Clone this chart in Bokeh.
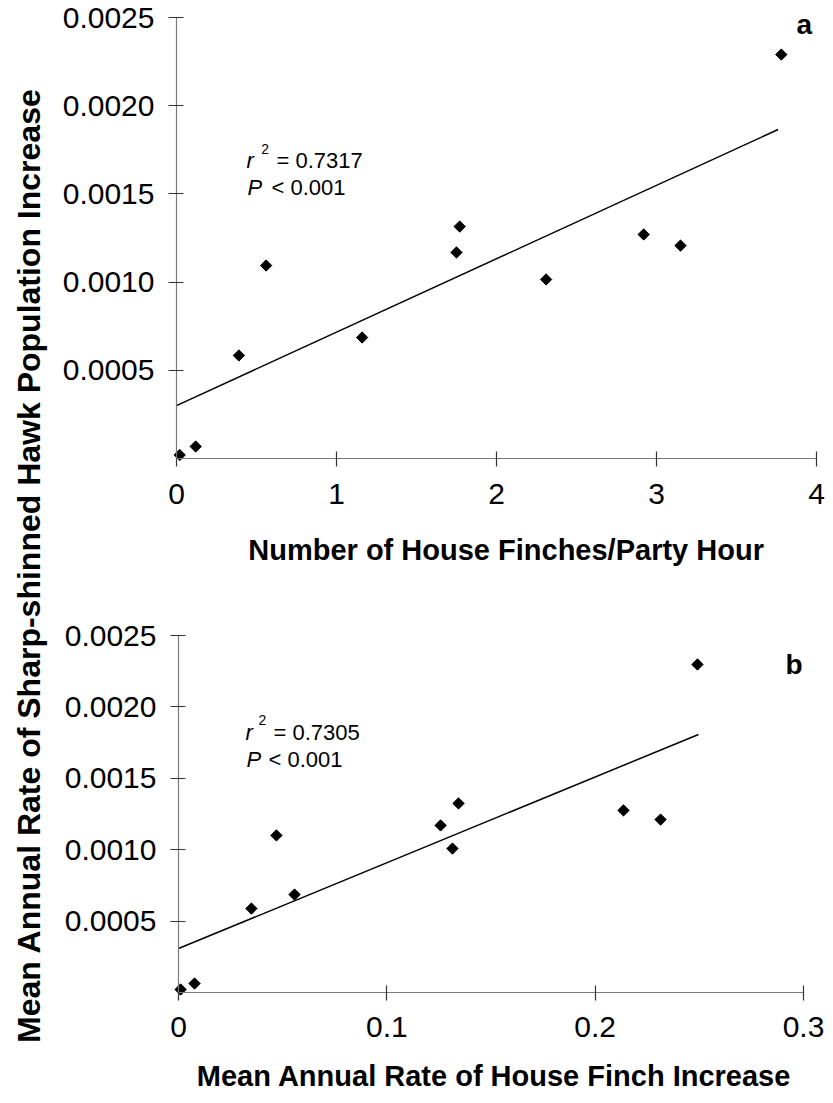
import numpy as np
from bokeh.plotting import figure
from bokeh.layouts import row, column
from bokeh.models import Range1d, FixedTicker, Label
from bokeh.embed import file_html
from bokeh.resources import INLINE

# ---------------- data ----------------
# panel a: Number of House Finches / Party Hour
a_x = [0.02, 0.12, 0.39, 0.56, 1.16, 1.75, 1.77, 2.31, 2.92, 3.15, 3.78]
a_y = [0.00002, 0.000068, 0.000584, 0.001094, 0.000686, 0.001168, 0.001315,
       0.001015, 0.00127, 0.001207, 0.00229]
a_fit_x = [0.0, 3.76]
a_fit_y = [0.0003, 0.001865]

# panel b: Mean Annual Rate of House Finch Increase
b_x = [0.001, 0.0077, 0.035, 0.047, 0.0557, 0.1258, 0.1315, 0.1344, 0.2136, 0.2314, 0.2491]
b_y = [0.000021, 0.000063, 0.000588, 0.0011, 0.000686, 0.00117, 0.001008, 0.001324,
       0.001275, 0.001211, 0.002297]
b_fit_x = [0.0, 0.2496]
b_fit_y = [0.000308, 0.001807]

a_xticks = [0, 1, 2, 3, 4]
a_xlabels = ["0", "1", "2", "3", "4"]
b_xticks = [0, 0.1, 0.2, 0.3]
b_xlabels = ["0", "0.1", "0.2", "0.3"]
yticks = [0.0005, 0.001, 0.0015, 0.002, 0.0025]
ylabels = ["0.0005", "0.0010", "0.0015", "0.0020", "0.0025"]

a_xtitle = "Number of House Finches/Party Hour"
b_xtitle = "Mean Annual Rate of House Finch Increase"
ytitle = "Mean Annual Rate of Sharp-shinned Hawk Population Increase"
a_r2 = "= 0.7317"
b_r2 = "= 0.7305"
p_text = "< 0.001"

FONT = "Liberation Sans"
YMAX = 0.0025


def make_panel(width, height, xmax, plot_box, xticks, xlabels, tick_standoff):
    """plot_box = (left, right, top, bottom) pixel position, inside the figure,
    of the data rectangle [0, xmax] x [0, YMAX]; the frame fills the figure so
    that axes and texts that lie around that rectangle are not clipped."""
    left, right, top, bottom = plot_box
    kx = xmax / (right - left)
    ky = YMAX / (bottom - top)
    p = figure(width=width, height=height, output_backend="svg",
               toolbar_location=None,
               x_range=Range1d(-left * kx, (width - left) * kx),
               y_range=Range1d(-(height - bottom) * ky, YMAX + top * ky),
               min_border=0)
    p.grid.visible = False
    p.outline_line_color = None
    p.background_fill_color = "white"
    p.border_fill_color = "white"

    for ax in (p.xaxis[0], p.yaxis[0]):
        ax.fixed_location = 0
        ax.axis_line_color = "#7a7a7a"
        ax.axis_line_width = 1.2
        ax.major_tick_line_color = "#333333"
        ax.major_tick_line_width = 1.2
        ax.major_tick_in = 7
        ax.major_tick_out = 8
        ax.minor_tick_line_color = None
        ax.major_label_text_font = FONT
        ax.major_label_text_font_size = "30px"
        ax.major_label_text_color = "black"

    p.xaxis.bounds = (xticks[0], xticks[-1])
    p.xaxis.ticker = FixedTicker(ticks=xticks)
    p.xaxis.major_label_overrides = dict(zip(xticks, xlabels))
    p.xaxis.major_label_standoff = tick_standoff

    p.yaxis.bounds = (0, YMAX)
    p.yaxis.ticker = FixedTicker(ticks=yticks)
    p.yaxis.major_label_overrides = dict(zip(yticks, ylabels))
    p.yaxis.major_label_standoff = 14
    return p


def txt(p, x, y, text, size, style="normal", align="left", angle=0.0):
    p.add_layout(Label(x=x, y=y, text=text, text_font=FONT,
                       text_font_style=style, text_font_size=size,
                       text_align=align, text_baseline="alphabetic",
                       angle=angle, text_color="black"))


def add_stats(p, xr, yr2, xsup, ysup, xeq, xp, yp, xlt, r2text):
    txt(p, xr, yr2, "r", "22px", "italic")
    txt(p, xsup, ysup, "2", "14px")
    txt(p, xeq, yr2, r2text, "22px")
    txt(p, xp, yp, "P", "22px", "italic")
    txt(p, xlt, yp, p_text, "22px")


# ---------------- panel a ----------------
pa = make_panel(777, 592, 4, (128, 768, 17, 458), a_xticks, a_xlabels, 17)
pa.line(a_fit_x, a_fit_y, line_color="black", line_width=1.5)
pa.scatter(a_x, a_y, marker="square", angle=np.pi / 4, size=8,
           fill_color="black", line_color="black")
add_stats(pa, 0.4375, 0.001689, 0.53, 0.001752, 0.625, 0.444, 0.001536, 0.594, a_r2)
txt(pa, 3.875, 0.00246, "a", "28px", "bold")
txt(pa, 2.06, -0.000516, a_xtitle, "29px", "bold", "center")

# ---------------- panel b ----------------
pb = make_panel(777, 495, 0.3, (130, 755, 43, 400), b_xticks, b_xlabels, 16)
pb.line(b_fit_x, b_fit_y, line_color="black", line_width=1.5)
pb.scatter(b_x, b_y, marker="square", angle=np.pi / 4, size=8,
           fill_color="black", line_color="black")
add_stats(pb, 0.0322, 0.00182, 0.0384, 0.00191, 0.0456, 0.0326, 0.00163, 0.0432, b_r2)
txt(pb, 0.2914, 0.0023, "b", "28px", "bold")
txt(pb, 0.1515, -0.000588, b_xtitle, "29px", "bold", "center")

# ---------------- shared y title ----------------
py = figure(width=48, height=1087, output_backend="svg", toolbar_location=None,
            x_range=Range1d(0, 48), y_range=Range1d(0, 1087),
            x_axis_location=None, y_axis_location=None, min_border=0)
py.grid.visible = False
py.outline_line_color = None
txt(py, 28, 522, ytitle, "32px", "bold", "center", np.pi / 2)

layout = row(py, column(pa, pb))
open("out.html", "w").write(file_html(layout, INLINE))
